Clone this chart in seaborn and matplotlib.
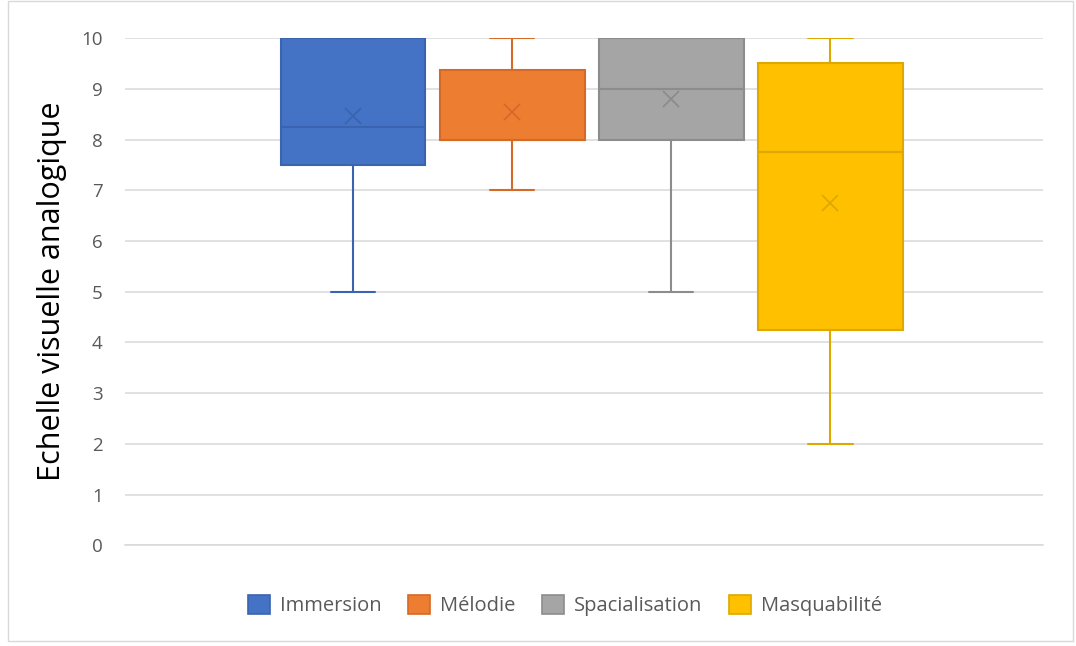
import matplotlib
matplotlib.use("Agg")
import matplotlib.pyplot as plt
from matplotlib.patches import Patch, Rectangle
import seaborn as sns

categories = ["Immersion", "Mélodie", "Spacialisation", "Masquabilité"]
whisker_low = [5, 7, 5, 2]
q1 = [7.5, 8, 8, 4.25]
median = [8.25, 8, 9, 7.75]
q3 = [10, 9.375, 10, 9.5]
whisker_high = [10, 10, 10, 10]
means = [8.47, 8.55, 8.8, 6.75]
y_ticks = list(range(0, 11))

fill_colors = ["#4472C4", "#ED7D31", "#A5A5A5", "#FFC000"]
edge_colors = ["#3A64AF", "#D46A28", "#8C8C8C", "#DDA800"]

sns.set_theme(style="white")
plt.rcParams['font.family'] = ['Open Sans', 'DejaVu Sans']

fig = plt.figure(figsize=(10.76, 6.46), dpi=100)
ax = fig.add_axes([0.116, 0.156, 0.853, 0.785])

stats = []
for i, c in enumerate(categories):
    stats.append(dict(label=c, whislo=whisker_low[i], q1=q1[i], med=median[i],
                      q3=q3[i], whishi=whisker_high[i], mean=means[i], fliers=[]))

positions = list(range(len(categories)))
for i, s in enumerate(stats):
    ax.bxp([s], positions=[positions[i]], widths=0.91, patch_artist=True,
           showmeans=True, manage_ticks=False,
           boxprops=dict(facecolor=fill_colors[i], edgecolor=edge_colors[i], linewidth=1.5),
           medianprops=dict(color=edge_colors[i], linewidth=1.5),
           whiskerprops=dict(color=edge_colors[i], linewidth=1.5),
           capprops=dict(color=edge_colors[i], linewidth=1.5),
           capwidths=0.28,
           meanprops=dict(marker="x", markeredgecolor=edge_colors[i], markersize=11,
                          markeredgewidth=1.3),
           zorder=3)

ax.set_xlim(1.45 - 2.885, 1.45 + 2.885)
ax.set_ylim(0, 10)
ax.set_yticks(y_ticks)
ax.set_yticklabels([str(t) for t in y_ticks], color="#595959", fontsize=13.5)
ax.set_xticks([])
ax.yaxis.grid(True, color="#D9D9D9", linewidth=1.1, zorder=0)
ax.set_axisbelow(True)
for sp in ["top", "right", "left"]:
    ax.spines[sp].set_visible(False)
ax.spines["bottom"].set_color("#D9D9D9")
ax.spines["bottom"].set_linewidth(1.1)
ax.tick_params(axis="y", length=0, pad=16)
ax.set_ylabel("Echelle visuelle analogique", fontsize=22, color="black", labelpad=10)

handles = [Patch(facecolor=fill_colors[i], edgecolor=edge_colors[i], linewidth=1.2, label=c)
           for i, c in enumerate(categories)]
fig.legend(handles=handles, loc="center", bbox_to_anchor=(0.525, 0.063), ncol=4,
           frameon=False, fontsize=14.5, handlelength=1.1, handleheight=1.1,
           handletextpad=0.5, columnspacing=1.3, labelcolor="#595959")

fig.patches.append(Rectangle((0.007, 0.008), 0.99, 0.99, transform=fig.transFigure,
                             fill=False, edgecolor="#D9D9D9", linewidth=1))

fig.savefig("out.png", dpi=100)
